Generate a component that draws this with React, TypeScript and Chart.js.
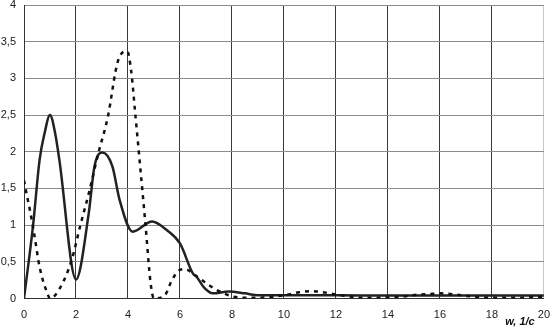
import React, { useEffect, useRef } from "react";
import { Chart, registerables } from "chart.js";

Chart.register(...registerables);

// Solid curve (x in 1/c, y)
const solidX = [0, 0.35, 0.6, 0.79, 1.0, 1.2, 1.36, 2.0, 2.49, 2.71, 3.02, 3.4, 3.68, 4.18, 4.93, 5.5, 6.0, 6.5, 6.63, 6.95, 7.26, 7.88, 8.5, 9.0, 10, 12, 14, 16, 18, 20];
const solidY = [0, 1.0, 1.89, 2.25, 2.5, 2.25, 1.89, 0.26, 1.16, 1.8, 1.99, 1.8, 1.34, 0.91, 1.05, 0.93, 0.75, 0.34, 0.3, 0.14, 0.07, 0.095, 0.07, 0.045, 0.045, 0.045, 0.04, 0.04, 0.04, 0.04];

// Dashed curve
const dashX = [0, 0.12, 0.23, 0.41, 0.6, 0.92, 1.0, 1.38, 1.83, 2.17, 2.49, 2.86, 3.24, 3.53, 3.68, 3.97, 4.12, 4.28, 4.43, 4.68, 4.87, 5.0, 5.43, 5.69, 6.0, 6.2, 6.57, 7.0, 7.5, 8.07, 8.57, 9.0, 9.6, 10.1, 10.58, 11.05, 11.6, 12.05, 12.6, 13.1, 13.6, 14.5, 15.04, 15.57, 16.05, 16.55, 17.05, 17.6, 18.05, 18.56, 19.1, 19.65, 20];
const dashY = [1.61, 1.39, 1.2, 0.84, 0.43, 0.05, 0, 0.14, 0.52, 1.0, 1.43, 1.98, 2.5, 3.11, 3.3, 3.37, 3.11, 2.52, 1.95, 0.98, 0.21, 0, 0.05, 0.25, 0.39, 0.4, 0.32, 0.21, 0.1, 0.025, 0.01, 0.01, 0.025, 0.05, 0.085, 0.1, 0.08, 0.05, 0.025, 0.01, 0.01, 0.025, 0.048, 0.06, 0.07, 0.057, 0.034, 0.016, 0.01, 0.01, 0.01, 0.02, 0.02];

const xTicks = [0, 2, 4, 6, 8, 10, 12, 14, 16, 18, 20];
const xTitle = "w, 1/c";

export default function App() {
  const ref = useRef<HTMLCanvasElement>(null);
  useEffect(() => {
    if (!ref.current) return;
    const font = { family: "'Liberation Sans', Arial, sans-serif", size: 11 };
    const chart = new Chart(ref.current, {
      type: "line",
      data: {
        datasets: [
          {
            data: dashX.map((x, i) => ({ x, y: dashY[i] })),
            borderColor: "#111",
            borderWidth: 2.5,
            borderDash: [4, 5],
            pointRadius: 0,
            cubicInterpolationMode: "monotone",
            fill: false,
          },
          {
            data: solidX.map((x, i) => ({ x, y: solidY[i] })),
            borderColor: "#222",
            borderWidth: 2.5,
            pointRadius: 0,
            cubicInterpolationMode: "monotone",
            fill: false,
          },
        ],
      },
      options: {
        animation: false,
        responsive: false,
        layout: { padding: { top: 0, right: 5, bottom: 0, left: 0 } },
        plugins: { legend: { display: false }, tooltip: { enabled: false } },
        scales: {
          x: {
            type: "linear",
            min: 0,
            max: 20,
            afterBuildTicks: (s: any) => {
              s.ticks = xTicks.map((v) => ({ value: v }));
            },
            afterFit: (s: any) => {
              s.height = 30.5;
            },
            ticks: { font, color: "#222", padding: 10, maxRotation: 0 },
            grid: {
              drawTicks: false,
              color: (c: any) => (c.tick && c.tick.value === 20 ? "#c8c8c8" : "#3a3a3a"),
              lineWidth: 1,
            },
            border: { display: true, color: "#333" },
            title: {
              display: true,
              text: xTitle + "   ",
              align: "end",
              padding: { top: 0, bottom: 0 },
              color: "#111",
              font: { family: "'Liberation Sans', Arial, sans-serif", size: 11, style: "italic", weight: "bold" },
            },
          },
          y: {
            min: 0,
            max: 4,
            ticks: {
              stepSize: 0.5,
              font,
              color: "#222",
              padding: 8,
              callback: (v: any) => String(v).replace(".", ","),
            },
            afterFit: (s: any) => {
              s.width = 24;
              s.paddingTop = 5;
              s.paddingBottom = 0;
            },
            grid: { drawTicks: false, color: "#8a8a8a", lineWidth: 1 },
            border: { display: true, color: "#333" },
          },
        },
      },
    } as any);
    return () => chart.destroy();
  }, []);
  return (
    <div style={{ position: "fixed", left: 0, top: 0, width: 560, height: 329, background: "#fff" }}>
      <canvas ref={ref} width={560} height={329} style={{ display: "block" }} />
    </div>
  );
}
